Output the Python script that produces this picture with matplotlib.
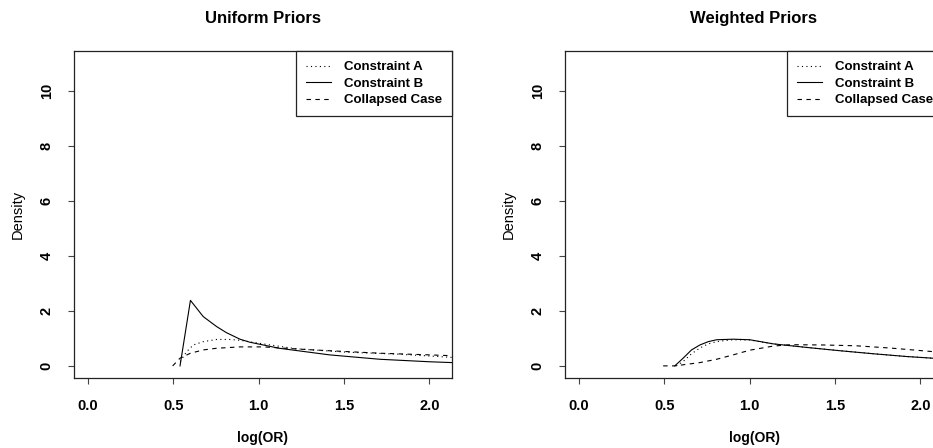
import matplotlib
matplotlib.use("Agg")
import matplotlib.pyplot as plt

# ---------------- data ----------------
panel_titles = ["Uniform Priors", "Weighted Priors"]
series_labels = ["Constraint A", "Constraint B", "Collapsed Case"]
x_ticks = [0.0, 0.5, 1.0, 1.5, 2.0]
x_tick_labels = ["0.0", "0.5", "1.0", "1.5", "2.0"]
y_ticks = [0, 2, 4, 6, 8, 10]
y_tick_labels = ["0", "2", "4", "6", "8", "10"]
x_label = "log(OR)"
y_label = "Density"

# Uniform priors
uni_a_x = [0.54, 0.56, 0.578, 0.617, 0.675, 0.753, 0.83, 0.89, 1.026, 1.22, 1.51, 1.80, 2.00, 2.13]
uni_a_y = [0.16, 0.35, 0.52, 0.76, 0.88, 0.96, 0.96, 0.93, 0.80, 0.62, 0.50, 0.43, 0.36, 0.31]

uni_b_x = [0.539, 0.60, 0.675, 0.753, 0.81, 0.89, 0.948, 1.12, 1.415, 1.71, 2.00, 2.13]
uni_b_y = [0.0, 2.38, 1.79, 1.43, 1.21, 0.97, 0.86, 0.64, 0.40, 0.24, 0.15, 0.12]

uni_c_x = [0.496, 0.539, 0.60, 0.675, 0.753, 0.89, 1.026, 1.32, 1.71, 2.00, 2.13]
uni_c_y = [0.0, 0.28, 0.46, 0.58, 0.64, 0.69, 0.69, 0.58, 0.46, 0.40, 0.37]

# Weighted priors
wt_a_x = [0.57, 0.61, 0.659, 0.708, 0.757, 0.806, 0.855, 0.903, 1.0, 1.138, 1.334, 1.53, 1.725, 1.92, 2.07, 2.13]
wt_a_y = [0.0, 0.16, 0.44, 0.65, 0.80, 0.88, 0.92, 0.95, 0.94, 0.80, 0.67, 0.55, 0.44, 0.34, 0.28, 0.26]

wt_b_x = [0.561, 0.61, 0.659, 0.708, 0.757, 0.806, 0.903, 1.0, 1.138, 1.334, 1.53, 1.725, 1.92, 2.07, 2.13]
wt_b_y = [0.0, 0.28, 0.58, 0.76, 0.88, 0.95, 0.97, 0.95, 0.80, 0.67, 0.55, 0.44, 0.34, 0.28, 0.26]

wt_c_x = [0.493, 0.561, 0.708, 0.806, 0.903, 1.0, 1.138, 1.236, 1.43, 1.625, 1.82, 2.07, 2.13]
wt_c_y = [0.0, 0.0, 0.12, 0.24, 0.40, 0.57, 0.72, 0.77, 0.76, 0.73, 0.65, 0.52, 0.49]

panels = [
    [(uni_a_x, uni_a_y), (uni_b_x, uni_b_y), (uni_c_x, uni_c_y)],
    [(wt_a_x, wt_a_y), (wt_b_x, wt_b_y), (wt_c_x, wt_c_y)],
]

# ---------------- styling ----------------
plt.rcParams['font.family'] = ['Liberation Sans', 'DejaVu Sans']
W, H = 933, 448
fig = plt.figure(figsize=(W / 100, H / 100), dpi=100)

styles = [(0, (1, 3)), '-', (0, (4, 4))]
lw = 0.8

ax_left_px = [74, 565]
ax_w_px, ax_top_px, ax_h_px = 378, 51, 327

for i, (title, data) in enumerate(zip(panel_titles, panels)):
    ax = fig.add_axes([ax_left_px[i] / W, (H - ax_top_px - ax_h_px) / H,
                       ax_w_px / W, ax_h_px / H])
    for (xs, ys), ls, lab in zip(data, styles, series_labels):
        ax.plot(xs, ys, color='black', linestyle=ls, linewidth=lw, label=lab)

    ax.set_xlim(-0.082, 2.132)
    ax.set_ylim(-0.44, 11.44)
    ax.set_xticks(x_ticks)
    ax.set_xticklabels(x_tick_labels, fontsize=10.5, fontweight='bold')
    ax.set_yticks(y_ticks)
    ax.set_yticklabels(y_tick_labels, fontsize=10.5, fontweight='bold',
                       rotation=90, va='center')
    ax.tick_params(axis='x', length=4.5, width=0.8, pad=10.5, color='#444444')
    ax.tick_params(axis='y', length=4.5, width=0.8, pad=10.0, color='#444444')
    for sp in ax.spines.values():
        sp.set_linewidth(0.9)
        sp.set_color('#222222')

    ax.set_title(title, fontsize=12, fontweight='bold', pad=20)
    ax.set_xlabel(x_label, fontsize=10, fontweight='bold')
    ax.xaxis.set_label_coords(0.5, -0.1835)
    ax.xaxis.label.set_va('center')
    ax.set_ylabel(y_label, fontsize=10.5)
    ax.yaxis.set_label_coords(-0.148, 0.5)
    ax.yaxis.label.set_va('center')

    leg = ax.legend(loc='upper right', borderaxespad=0, fancybox=False,
                    framealpha=1, edgecolor='#222222',
                    prop={'size': 9.5, 'weight': 'bold'},
                    handlelength=1.9, handletextpad=0.95, borderpad=0.75,
                    labelspacing=0.33)
    leg.get_frame().set_linewidth(0.9)

fig.savefig("out.png", dpi=100)
